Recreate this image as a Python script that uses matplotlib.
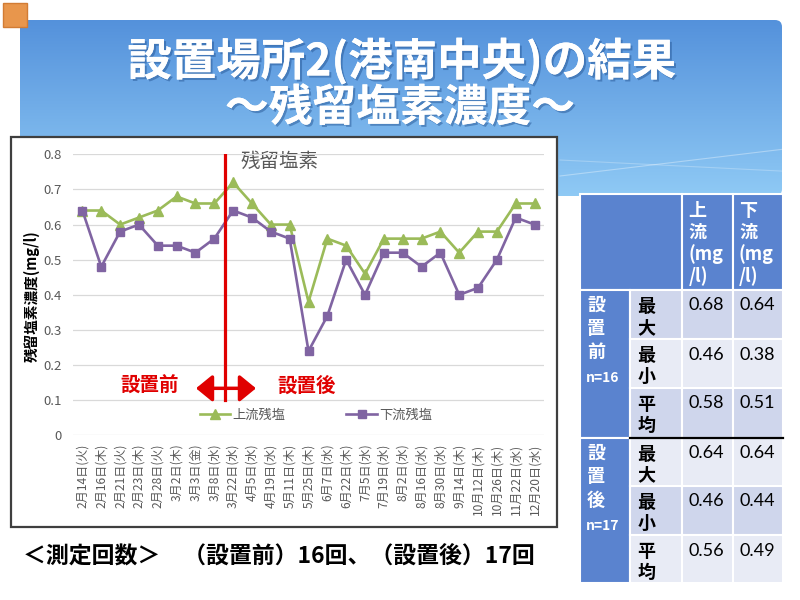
import matplotlib
matplotlib.use('Agg')
import matplotlib.pyplot as plt
import numpy as np
from matplotlib.patches import Rectangle, FancyArrowPatch, FancyBboxPatch
import matplotlib.patheffects as pe

plt.rcParams['font.family'] = ['Noto Sans CJK JP', 'DejaVu Sans']

# ---------------- data ----------------
dates = ['2月14日(火)', '2月16日(木)', '2月21日(火)', '2月23日(木)', '2月28日(火)',
         '3月2日(木)', '3月3日(金)', '3月8日(水)', '3月22日(水)', '4月5日(水)',
         '4月19日(水)', '5月11日(木)', '5月25日(木)', '6月7日(水)', '6月22日(木)',
         '7月5日(水)', '7月19日(水)', '8月2日(水)', '8月16日(水)', '8月30日(水)',
         '9月14日(木)', '10月12日(木)', '10月26日(木)', '11月22日(水)', '12月20日(水)']
upstream = [0.64, 0.64, 0.60, 0.62, 0.64, 0.68, 0.66, 0.66, 0.72, 0.66,
            0.60, 0.60, 0.38, 0.56, 0.54, 0.46, 0.56, 0.56, 0.56, 0.58,
            0.52, 0.58, 0.58, 0.66, 0.66]
downstream = [0.64, 0.48, 0.58, 0.60, 0.54, 0.54, 0.52, 0.56, 0.64, 0.62,
              0.58, 0.56, 0.24, 0.34, 0.50, 0.40, 0.52, 0.52, 0.48, 0.52,
              0.40, 0.42, 0.50, 0.62, 0.60]
series_names = ['上流残塩', '下流残塩']
yticks = [0, 0.1, 0.2, 0.3, 0.4, 0.5, 0.6, 0.7, 0.8]
ytick_labels = ['0', '0.1', '0.2', '0.3', '0.4', '0.5', '0.6', '0.7', '0.8']

table_headers = [['上', '流', '(mg', '/l)'], ['下', '流', '(mg', '/l)']]
periods = ['設置前', '設置後']
period_n = ['n=16', 'n=17']
stats = ['最大', '最小', '平均', '最大', '最小', '平均']
up_stats = ['0.68', '0.46', '0.58', '0.64', '0.46', '0.56']
down_stats = ['0.64', '0.38', '0.51', '0.64', '0.44', '0.49']

title1 = '設置場所2(港南中央)の結果'
title2 = '～残留塩素濃度～'
footer = '＜測定回数＞　（設置前）16回、（設置後）17回'

# ---------------- figure ----------------
W, H = 800, 600
fig = plt.figure(figsize=(8, 6), dpi=100)
fig.patch.set_facecolor('white')
bg = fig.add_axes([0, 0, 1, 1])
bg.set_xlim(0, W)
bg.set_ylim(H, 0)
bg.axis('off')

# gradient banner
top_c = np.array([0.33, 0.57, 0.86])
bot_c = np.array([0.56, 0.79, 0.96])
t = np.linspace(0, 1, 200)[:, None, None]
grad = top_c * (1 - t) + bot_c * t
grad = np.repeat(grad, 2, axis=1)
im = bg.imshow(grad, extent=[20, 782, 196, 20], aspect='auto', zorder=0)
clip = FancyBboxPatch((20, 20), 762, 176, boxstyle='round,pad=0,rounding_size=7',
                      transform=bg.transData, facecolor='none', edgecolor='none')
bg.add_patch(clip)
im.set_clip_path(clip)
# faint streaks
xs = np.linspace(560, 782, 50)
bg.plot(xs, 176 - (xs - 560) * 0.12, color='white', alpha=0.35, lw=0.8, zorder=1)
bg.plot(xs, 160 + (xs - 560) * 0.05, color='white', alpha=0.25, lw=0.8, zorder=1)

# orange square
bg.add_patch(Rectangle((3, 3), 24, 24, facecolor='#E8964C', edgecolor='#D27C34', lw=1, zorder=3))

shadow = [pe.withSimplePatchShadow(offset=(1.5, -1.5), shadow_rgbFace='#1F4E8C', alpha=0.45), pe.Normal()]
bg.text(402, 62, title1, ha='center', va='center', fontsize=32, color='white',
        fontweight='bold', path_effects=shadow, zorder=3)
bg.text(400, 108, title2, ha='center', va='center', fontsize=31.5, color='white',
        fontweight='bold', path_effects=shadow, zorder=3)

# chart box
bg.add_patch(Rectangle((11, 137), 546, 390, facecolor='white', edgecolor='#3F3F3F', lw=1.6, zorder=2))

# ---------------- chart ----------------
ax = fig.add_axes([73 / W, 1 - 435.4 / H, 471 / W, (435.4 - 154.3) / H])
ax.patch.set_alpha(0)
x = np.arange(len(dates))
green = '#9BBB59'
purple = '#8064A2'
ax.plot(x, upstream, color=green, lw=1.9, marker='^', ms=7.5, label=series_names[0], zorder=3)
ax.plot(x, downstream, color=purple, lw=1.9, marker='s', ms=5.5, label=series_names[1], zorder=4)
ax.set_xlim(-0.5, len(dates) - 0.5)
ax.set_ylim(0, 0.8)
ax.set_yticks(yticks)
ax.set_yticklabels(ytick_labels)
ax.set_xticks(x)
ax.set_xticklabels(dates, rotation=90)
ax.tick_params(axis='both', length=0, colors='#595959')
ax.tick_params(axis='y', labelsize=9.5, pad=8)
ax.tick_params(axis='x', labelsize=8.7, pad=6)
ax.grid(axis='y', color='#D9D9D9', lw=0.9)
ax.set_axisbelow(True)
for s in ax.spines.values():
    s.set_visible(False)

red = '#E00000'
ax.axvline(7.55, ymin=0.125, ymax=1.0, color=red, lw=2.3, zorder=5)
arr = FancyArrowPatch((5.88, 0.134), (9.36, 0.134), arrowstyle='<|-|>,head_length=0.55,head_width=0.45',
                      mutation_scale=18, color=red, lw=2.5, zorder=6)
ax.add_patch(arr)
ax.text(3.56, 0.14, '設置前', ha='center', va='center', fontsize=14, fontweight='bold', color=red)
ax.text(11.92, 0.14, '設置後', ha='center', va='center', fontsize=14, fontweight='bold', color=red)

leg = ax.legend(loc='center', bbox_to_anchor=(316 / W, 1 - 415 / H), bbox_transform=fig.transFigure,
                ncol=2, frameon=False, fontsize=9.5, handlelength=2.3, handletextpad=0.2,
                columnspacing=4.6, labelcolor='#595959')

bg.text(241, 161, '残留塩素', ha='left', va='center', fontsize=14, color='#595959', zorder=3)
bg.text(32, 296, '残留塩素濃度(mg/l)', ha='center', va='center', rotation=90,
        fontsize=10.5, fontweight='bold', color='black', zorder=3)

# ---------------- table ----------------
blue = '#5A83CF'
dark_cell = '#CFD6EC'
light_cell = '#E8EBF5'
cx = [580, 630, 682, 732.5, 783]
ry = [194, 290, 339, 388, 437.5, 486, 535, 583]
ec = 'white'
# header
bg.add_patch(Rectangle((cx[0], ry[0]), cx[2] - cx[0], ry[1] - ry[0], facecolor=blue, edgecolor=ec, lw=1.5, zorder=2))
for j in range(2):
    bg.add_patch(Rectangle((cx[2 + j], ry[0]), cx[3 + j] - cx[2 + j], ry[1] - ry[0],
                           facecolor=blue, edgecolor=ec, lw=1.5, zorder=2))
    for k, line in enumerate(table_headers[j]):
        bg.text(cx[2 + j] + 6.5, 210.5 + k * 22, line, ha='left', va='center', fontsize=13,
                fontweight='bold', color='white', zorder=3)
# left period column
for p in range(2):
    top = ry[1 + 3 * p]
    bot = ry[4 + 3 * p]
    bg.add_patch(Rectangle((cx[0], top), cx[1] - cx[0], bot - top, facecolor=blue,
                           edgecolor=ec, lw=1.5, zorder=2))
    for k, ch in enumerate(periods[p]):
        bg.text(cx[0] + 7, top + 15.5 + k * 23.5, ch, ha='left', va='center', fontsize=13,
                fontweight='bold', color='white', zorder=3)
    bg.text(cx[0] + 6, top + 88, period_n[p], ha='left', va='center', fontsize=10,
            fontweight='bold', color='white', zorder=3)
# data rows
shades = [dark_cell, light_cell, dark_cell, light_cell, dark_cell, light_cell]
for i in range(6):
    top = ry[1 + i]
    hgt = ry[2 + i] - top
    for c in range(1, 4):
        bg.add_patch(Rectangle((cx[c], top), cx[c + 1] - cx[c], hgt, facecolor=shades[i],
                               edgecolor=ec, lw=1.5, zorder=2))
    bg.text(cx[1] + 7.5, top + 16.5, stats[i][0], ha='left', va='center', fontsize=13,
            fontweight='bold', color='black', zorder=3)
    bg.text(cx[1] + 7.5, top + 37.5, stats[i][1], ha='left', va='center', fontsize=13,
            fontweight='bold', color='black', zorder=3)
    bg.text(cx[2] + 6.5, top + 15.5, up_stats[i], ha='left', va='center', fontsize=13,
            family='Lato', color='black', zorder=3)
    bg.text(cx[3] + 7.5, top + 15.5, down_stats[i], ha='left', va='center', fontsize=13,
            family='Lato', color='black', zorder=3)
bg.plot([cx[1], cx[4]], [ry[4], ry[4]], color='black', lw=1.6, zorder=4)

# footer
bg.text(23, 556, footer, ha='left', va='center', fontsize=16.5, fontweight='bold', color='black', zorder=3)

fig.savefig('out.png', dpi=100)
